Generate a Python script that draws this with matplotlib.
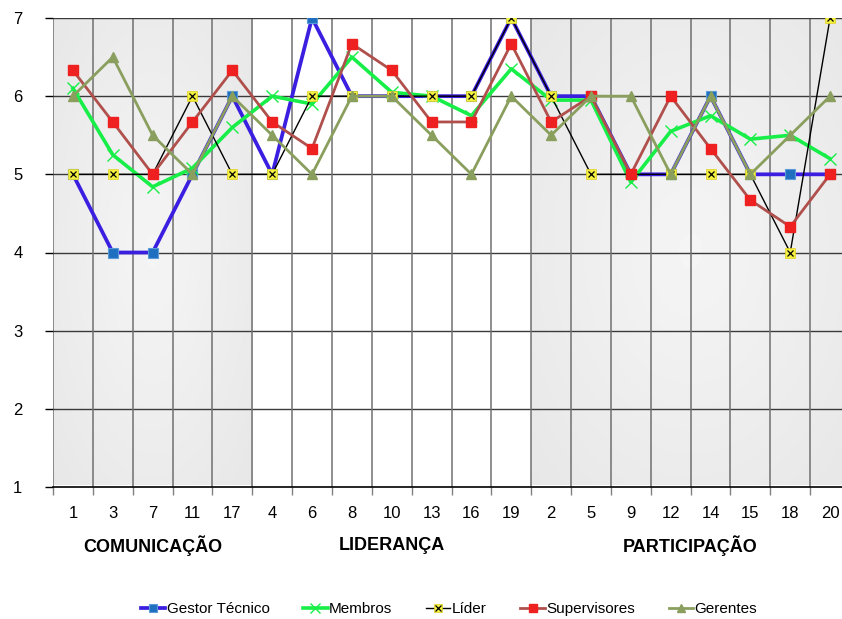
import numpy as np
import matplotlib
matplotlib.use("Agg")
import matplotlib.pyplot as plt
from matplotlib.legend_handler import HandlerTuple

plt.rcParams['font.family'] = ['Liberation Sans', 'DejaVu Sans']

# question numbers on the x axis, grouped in three blocks
questions = ['1', '3', '7', '11', '17', '4', '6', '8', '10', '13', '16', '19',
             '2', '5', '9', '12', '14', '15', '18', '20']
groups = ['COMUNICAÇÃO', 'LIDERANÇA', 'PARTICIPAÇÃO']
group_sizes = [5, 7, 8]

gestor = [5, 4, 4, 5, 6, 5, 7, 6, 6, 6, 6, 7, 6, 6, 5, 5, 6, 5, 5, 5]
membros = [6.1, 5.25, 4.84, 5.08, 5.6, 6.0, 5.9, 6.5, 6.05, 6.0, 5.75, 6.35,
           5.95, 5.95, 4.9, 5.55, 5.75, 5.45, 5.5, 5.2]
lider = [5, 5, 5, 6, 5, 5, 6, 6, 6, 6, 6, 7, 6, 5, 5, 5, 5, 5, 4, 7]
supervisores = [6.33, 5.67, 5, 5.67, 6.33, 5.67, 5.33, 6.67, 6.33, 5.67, 5.67, 6.67,
                5.67, 6, 5, 6, 5.33, 4.67, 4.33, 5]
gerentes = [6, 6.5, 5.5, 5, 6, 5.5, 5, 6, 6, 5.5, 5, 6,
            5.5, 6, 6, 5, 6, 5, 5.5, 6]

x = np.arange(len(questions))

fig = plt.figure(figsize=(8.42, 6.19), dpi=100)
ax = fig.add_axes([53 / 842, (619 - 487) / 619, 797 / 842, 469 / 619])

# light grey shaded blocks for the first and last group (soft gradient)
gx = np.linspace(-1, 1, 60)
GX, GY = np.meshgrid(gx, gx)
grad = 0.96 - 0.055 * np.sqrt(GX ** 2 + GY ** 2) / np.sqrt(2)
start = 0
for i, size in enumerate(group_sizes):
    if i != 1:
        ax.imshow(grad, cmap='gray', vmin=0, vmax=1, aspect='auto',
                  extent=(start - 0.5, start + size - 0.5, 1.02, 7),
                  zorder=0, interpolation='bilinear')
    start += size
ax.set_xlim(-0.5, len(questions) - 0.5)
ax.set_ylim(1, 7)

# grid lines
for yv in range(2, 7):
    ax.axhline(yv, color='#3a3a3a', lw=1, zorder=1)
for b in np.arange(0.5, len(questions) - 0.5, 1):
    ax.axvline(b, color='#707070', lw=1.1, zorder=1)

# series
l1, = ax.plot(x, gestor, color='#3a1fe0', lw=2.7, marker='s', ms=7,
              mfc='#1f6fc0', mec='#5a9ad8', mew=0.8, zorder=3)
l2, = ax.plot(x, membros, color='#18ee48', lw=2.6, marker='x', ms=9,
              mec='#18ee48', mew=1, zorder=3)
l3a, = ax.plot(x, lider, color='black', lw=1, marker='s', ms=6.5,
               mfc='#f4f040', mec='#e0d020', mew=0.5, zorder=4)
l3b, = ax.plot(x, lider, color='black', lw=0, marker='x', ms=5,
               mec='black', mew=0.9, zorder=4)
l4, = ax.plot(x, supervisores, color='#b0504c', lw=2, marker='s', ms=6.5,
              mfc='#ee2020', mec='#ee2020', zorder=5)
l5, = ax.plot(x, gerentes, color='#8a9f5e', lw=2, marker='^', ms=7,
              mfc='#8a9f5e', mec='#8a9f5e', zorder=5)

# axes styling
for side in ['right', 'bottom', 'top', 'left']:
    ax.spines[side].set_visible(False)
ax.axhline(7, color='#3a3a3a', lw=1, zorder=1)
ax.axhline(1, color='black', lw=1.2, zorder=2, clip_on=False)
ax.axvline(-0.5, color='#707070', lw=1.1, zorder=1)

ax.set_yticks(range(1, 8))
ax.tick_params(axis='y', length=6, width=1, color='black', pad=16, labelsize=12)
ax.set_xticks(x)
ax.set_xticklabels(questions)
ax.tick_params(axis='x', which='major', length=0, pad=14, labelsize=12)
ax.set_xticks(np.arange(-0.5, len(questions), 1), minor=True)
ax.tick_params(axis='x', which='minor', length=6, width=1, color='#808080')

# group labels under the ticks
start = 0
for name, size in zip(groups, group_sizes):
    center = start + (size - 1) / 2
    ax.text(center, -0.124, name, transform=ax.get_xaxis_transform(),
            ha='center', va='center', fontsize=13, fontweight='bold')
    start += size

fig.legend([l1, l2, (l3a, l3b), l4, l5],
           ['Gestor Técnico', 'Membros', 'Líder', 'Supervisores', 'Gerentes'],
           handler_map={tuple: HandlerTuple(ndivide=1)},
           loc='center', bbox_to_anchor=(449 / 842, 1 - 609 / 619), ncol=5,
           frameon=False, fontsize=11, handlelength=1.6, handletextpad=0.1,
           columnspacing=2.2, markerscale=0.8)

fig.savefig('out.png', dpi=100)
